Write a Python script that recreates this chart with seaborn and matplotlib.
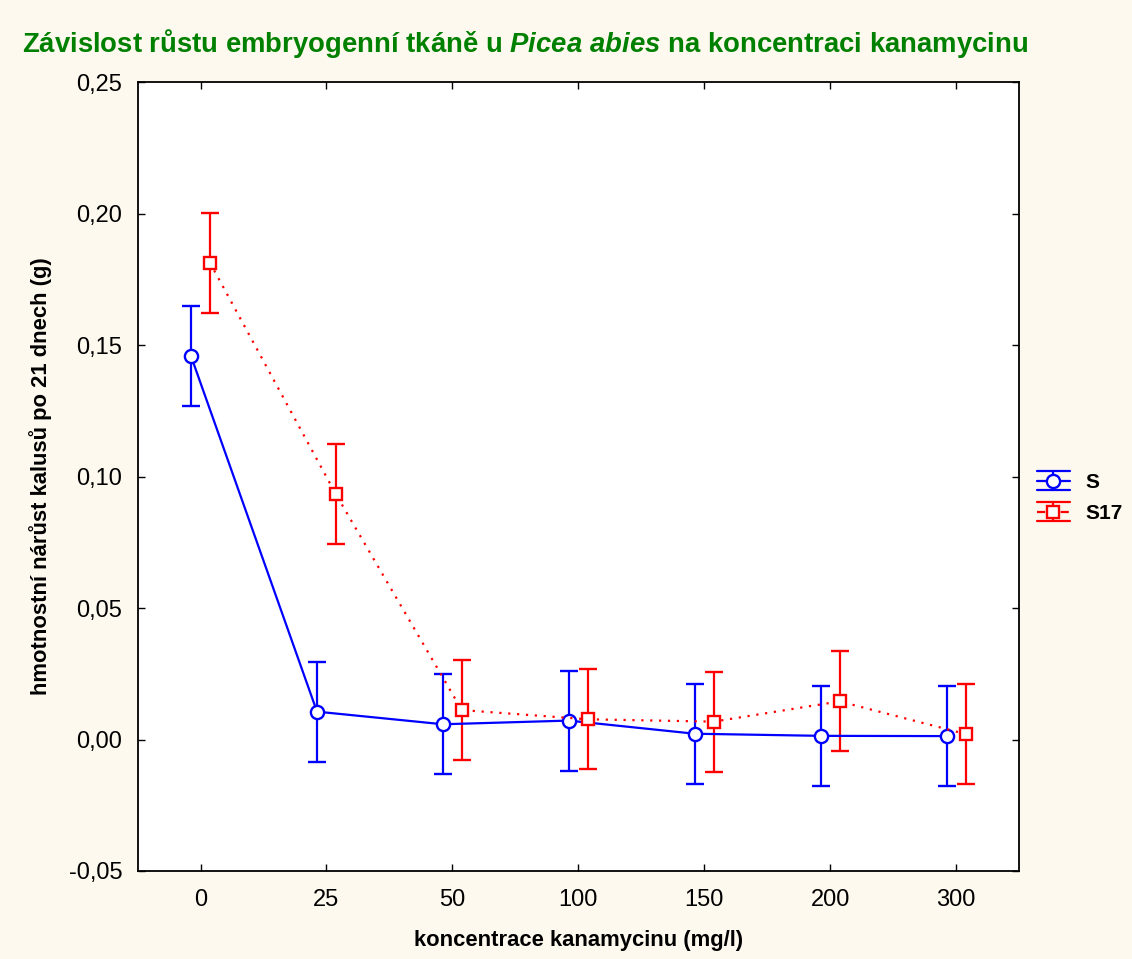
import numpy as np
import matplotlib
matplotlib.use("Agg")
import matplotlib.pyplot as plt
import seaborn as sns
from matplotlib.lines import Line2D
from matplotlib.legend_handler import HandlerBase

# Data
concentrations = ["0", "25", "50", "100", "150", "200", "300"]
s_mean = [0.1458, 0.0106, 0.0058, 0.0072, 0.0022, 0.0014, 0.0013]
s_err = [0.019, 0.019, 0.019, 0.019, 0.019, 0.019, 0.019]
s17_mean = [0.1814, 0.0933, 0.0112, 0.0077, 0.0068, 0.0145, 0.0021]
s17_err = [0.019, 0.019, 0.019, 0.019, 0.019, 0.019, 0.019]
y_ticks = [-0.05, 0.0, 0.05, 0.10, 0.15, 0.20, 0.25]

sns.set_style("ticks")
plt.rcParams['font.family'] = ['Liberation Sans', 'DejaVu Sans']
plt.rcParams['mathtext.fontset'] = 'custom'
plt.rcParams['mathtext.it'] = 'Liberation Sans:bold:italic'
plt.rcParams['mathtext.rm'] = 'Liberation Sans:bold'


# legend symbol like the Statistica one: wide caps, line and marker in the middle
class ErrHandler(HandlerBase):
    def create_artists(self, legend, orig_handle, xdescent, ydescent, width, height, fontsize, trans):
        line = orig_handle[0]
        c = line.get_color()
        lw = line.get_linewidth()
        x0, x1 = -xdescent, width - xdescent
        xm = (x0 + x1) / 2
        ym = height / 2 - ydescent
        dy = height / 2
        arts = [
            Line2D([x0, x1], [ym + dy, ym + dy], color=c, lw=lw),
            Line2D([x0, x1], [ym - dy, ym - dy], color=c, lw=lw),
            Line2D([xm, xm], [ym - dy, ym + dy], color=c, lw=lw),
            Line2D([x0, x1], [ym, ym], color=c, lw=lw, ls=line.get_linestyle()),
            Line2D([xm], [ym], marker=line.get_marker(), ms=line.get_markersize(),
                   mfc='white', mec=c, mew=line.get_markeredgewidth(), ls='none'),
        ]
        for a in arts:
            a.set_transform(trans)
        return arts


bg = '#FEF9EE'
fig = plt.figure(figsize=(11.32, 9.59), dpi=100, facecolor=bg)
ax = fig.add_axes([0.1215, 0.0918, 0.7787, 0.8224])
ax.set_facecolor('white')

pos = np.arange(len(concentrations))
shift = 0.075

# S series
h_s = ax.errorbar(pos - shift, s_mean, yerr=s_err, color='#0000FF', ls='-', lw=1.6,
                  marker='o', ms=9.5, mfc='white', mec='#0000FF', mew=1.7,
                  elinewidth=1.6, capsize=6.3, capthick=1.6, label='S', zorder=3)
# S17 series
h_s17 = ax.errorbar(pos + shift, s17_mean, yerr=s17_err, color='#FF0000', ls=(0, (1, 3)),
                    lw=1.6, marker='s', ms=9, mfc='white', mec='#FF0000', mew=1.7,
                    elinewidth=1.6, capsize=6.3, capthick=1.6, label='S17', zorder=3)

ax.set_xlim(-0.5, len(concentrations) - 0.5)
ax.set_ylim(-0.05, 0.25)
ax.set_xticks(pos)
ax.set_xticklabels(concentrations)
ax.set_yticks(y_ticks)
ax.set_yticklabels([f"{v:.2f}".replace('.', ',') for v in y_ticks])
ax.tick_params(direction='in', length=5, width=1, top=True, right=True,
               labelsize=17, colors='black')
ax.tick_params(axis='y', pad=11)
ax.tick_params(axis='x', pad=13)
for sp in ax.spines.values():
    sp.set_visible(True)
    sp.set_linewidth(1.3)
    sp.set_color('black')

ax.set_xlabel('koncentrace kanamycinu (mg/l)', fontsize=15.8, fontweight='bold',
              labelpad=14, color='black')
ax.set_ylabel('hmotnostní nárůst kalusů po 21 dnech (g)', fontsize=15.8, fontweight='bold',
              labelpad=12, color='black')

fig.text(0.4635, 1 - 52 / 959,
         r'Závislost růstu embryogenní tkáně u $\mathit{Picea\ abies}$ na koncentraci kanamycinu',
         ha='center', va='baseline', fontsize=19.8, fontweight='bold', color='#008000')

leg = ax.legend(handles=[h_s, h_s17], labels=['S', 'S17'], handler_map={type(h_s): ErrHandler()},
                loc='center left', bbox_to_anchor=(1.0105, 0.474),
                frameon=False, fontsize=15, handlelength=1.6, handleheight=1.0,
                handletextpad=0.72, labelspacing=0.5, borderaxespad=0)
for t in leg.get_texts():
    t.set_fontweight('bold')
    t.set_color('black')

fig.savefig('out.png', dpi=100, facecolor=bg)
